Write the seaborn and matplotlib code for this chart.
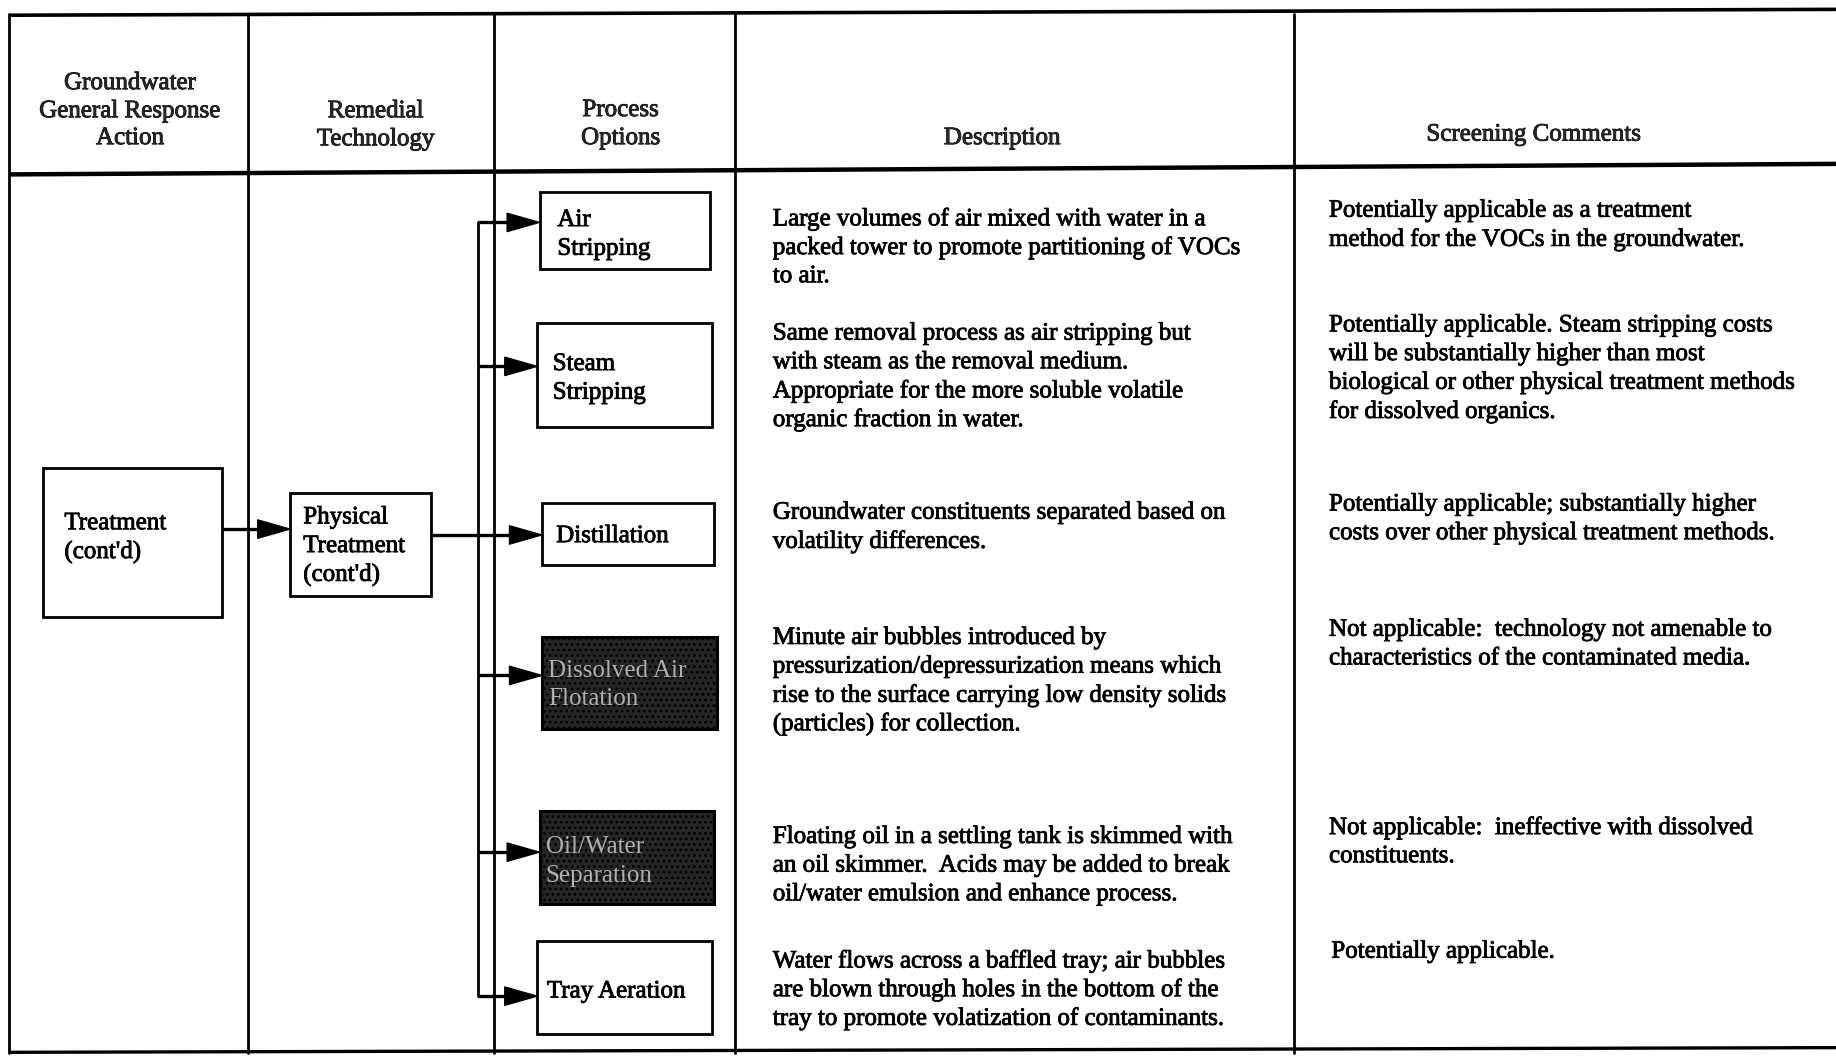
import matplotlib
matplotlib.use("Agg")
import matplotlib.pyplot as plt
import matplotlib.patheffects as pe
import seaborn as sns
from matplotlib.patches import Rectangle, Polygon

sns.set_theme(style="white")
plt.rcParams['font.family'] = ['Liberation Serif', 'DejaVu Serif']
plt.rcParams['hatch.color'] = '#5a5a5a'
plt.rcParams['hatch.linewidth'] = 1.2

# ---------------- content ----------------
headers = ["Groundwater\nGeneral Response\nAction", "Remedial\nTechnology",
           "Process\nOptions", "Description", "Screening Comments"]
response_action = "Treatment\n(cont'd)"
technology = "Physical\nTreatment\n(cont'd)"
process_options = ["Air\nStripping", "Steam\nStripping", "Distillation",
                   "Dissolved Air\nFlotation", "Oil/Water\nSeparation", "Tray Aeration"]
screened_out = [False, False, False, True, True, False]
descriptions = [
    "Large volumes of air mixed with water in a\npacked tower to promote partitioning of VOCs\nto air.",
    "Same removal process as air stripping but\nwith steam as the removal medium.\nAppropriate for the more soluble volatile\norganic fraction in water.",
    "Groundwater constituents separated based on\nvolatility differences.",
    "Minute air bubbles introduced by\npressurization/depressurization means which\nrise to the surface carrying low density solids\n(particles) for collection.",
    "Floating oil in a settling tank is skimmed with\nan oil skimmer.  Acids may be added to break\noil/water emulsion and enhance process.",
    "Water flows across a baffled tray; air bubbles\nare blown through holes in the bottom of the\ntray to promote volatization of contaminants.",
]
comments = [
    "Potentially applicable as a treatment\nmethod for the VOCs in the groundwater.",
    "Potentially applicable. Steam stripping costs\nwill be substantially higher than most\nbiological or other physical treatment methods\nfor dissolved organics.",
    "Potentially applicable; substantially higher\ncosts over other physical treatment methods.",
    "Not applicable:  technology not amenable to\ncharacteristics of the contaminated media.",
    "Not applicable:  ineffective with dissolved\nconstituents.",
    "Potentially applicable.",
]

# ---------------- layout (reference coordinates 1568 x 903) ----------------
W, H = 1568, 903
col_x = [8, 212, 422, 628, 1105]
header_x = [111, 321, 530, 856, 1310]
header_y = [[69, 93, 116], [93, 117], [92, 116], [116], [113]]
option_boxes = [(461, 164, 606, 230), (459, 276, 608, 365), (463, 430, 610, 483),
                (463, 544, 612, 623), (461, 693, 610, 772), (459, 804, 608, 883)]
option_arrow_y = [190, 313, 457, 577, 728, 851]
option_text_x = [476, 472, 475, 468, 466, 467]
option_text_y = [186, 309, 456, 571, 722, 845]
desc_y = [185, 283, 436, 543, 713, 819]
comm_y = [178, 276, 429, 536, 705, 811]
comm_x = [1135, 1135, 1135, 1135, 1135, 1137]
LS = 24.5   # line step
DY = 2.0    # text baseline correction
FS = 18.0
STROKE = [pe.withStroke(linewidth=0.6, foreground='black')]

fig = plt.figure(figsize=(18.36, 10.57), dpi=100)
ax = fig.add_axes([0, 0, 1, 1])
ax.set_xlim(0, W)
ax.set_ylim(H, 0)
ax.axis('off')


def lines(x, y0, text, ha='left', color='black', size=FS, effects=STROKE):
    for i, ln in enumerate(text.split('\n')):
        ax.text(x, y0 + DY + i * LS, ln, ha=ha, va='center', fontsize=size, color=color,
                path_effects=effects)


def arrow(x0, x1, y, head=28, hw=8):
    ax.plot([x0, x1 - head + 2], [y, y], color='black', lw=2.4, solid_capstyle='butt')
    ax.add_patch(Polygon([[x1 - head, y - hw], [x1, y], [x1 - head, y + hw]],
                         closed=True, facecolor='black', edgecolor='black', lw=0.8))


def hline(yl, yr, lw):
    ax.plot([col_x[0], W], [yl, yr], color='black', lw=lw, solid_capstyle='butt')


# table frame
hline(13, 8, 2.6)
hline(149, 140, 3.2)
hline(899, 895, 2.4)
for x in col_x:
    ax.plot([x, x], [12, 900], color='black', lw=2.0)

# headers
for x, ys, txt in zip(header_x, header_y, headers):
    for y, ln in zip(ys, txt.split('\n')):
        ax.text(x, y + DY, ln, ha='center', va='center', fontsize=FS, path_effects=STROKE)

# response action box
ax.add_patch(Rectangle((37, 400), 153, 127, fill=False, edgecolor='black', lw=2.0))
lines(55, 445, response_action)
arrow(190, 248, 452)

# technology box
ax.add_patch(Rectangle((248, 421), 120, 88, fill=False, edgecolor='black', lw=2.0))
lines(259, 440, technology)

# connector
ax.plot([368, 408], [457, 457], color='black', lw=2.4)
ax.plot([408, 408], [option_arrow_y[0], option_arrow_y[-1]], color='black', lw=2.0)

for i, (box, ay) in enumerate(zip(option_boxes, option_arrow_y)):
    x0, y0, x1, y1 = box
    arrow(408, x0, ay)
    if screened_out[i]:
        ax.add_patch(Rectangle((x0, y0), x1 - x0, y1 - y0, facecolor='#262626',
                               edgecolor='black', lw=2.2, hatch='...'))
        lines(option_text_x[i], option_text_y[i], process_options[i],
              color='#b0b0b0', effects=None)
    else:
        ax.add_patch(Rectangle((x0, y0), x1 - x0, y1 - y0, fill=False,
                               edgecolor='black', lw=2.0))
        lines(option_text_x[i], option_text_y[i], process_options[i])
    lines(660, desc_y[i], descriptions[i])
    lines(comm_x[i], comm_y[i], comments[i])

fig.savefig("out.png", dpi=100, facecolor='white')
